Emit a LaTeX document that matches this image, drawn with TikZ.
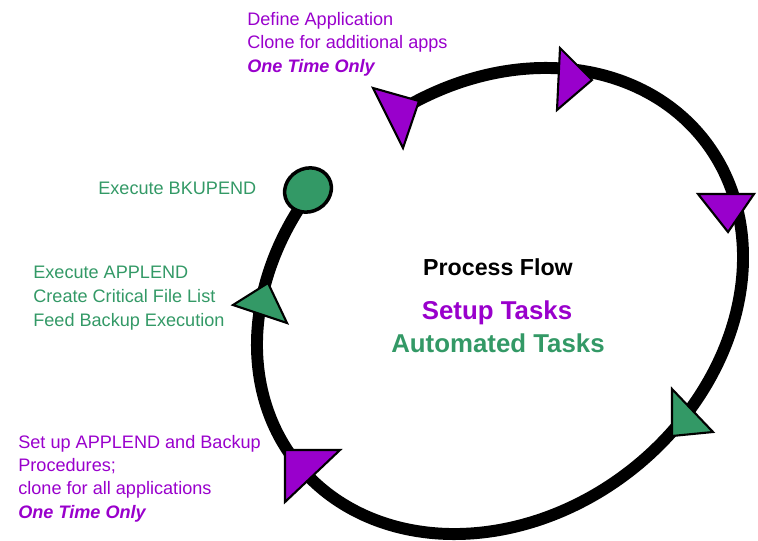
\documentclass[tikz,border=0pt]{standalone}
\usepackage{fontspec}
\setmainfont{Liberation Sans}
\usetikzlibrary{shapes.geometric, backgrounds}

\definecolor{setuppurple}{RGB}{153,0,204}
\definecolor{autogreen}{RGB}{51,153,102}

\tikzset{
	small text/.style={align=left, anchor=base west, inner sep=0pt, font=\fontsize{10.3}{13.1}\selectfont},
	setup text/.style={small text, text=setuppurple},
	auto text/.style={small text, text=autogreen},
	flowline/.style={line width=6.8pt},
	tri/.style={line width=1.2pt, draw=black},
}

\begin{document}
\begin{tikzpicture}[x=0.02cm, y=-0.02cm]

		\useasboundingbox (0,0) rectangle (758,541);

		% Textos
		
		\draw node[setup text] (define) at (247, 72) {Define Application\\Clone for additional apps\\\textbf{\textit{One Time Only}}};
		
		\draw node[auto text] (bkuptext) at (98, 194) {Execute BKUPEND};
		
		\draw node[auto text, font=\fontsize{10.3}{13.6}\selectfont] (appltext) at (33, 326) {Execute APPLEND\\Create Critical File List\\Feed Backup Execution};
		
		\draw node[setup text] (setupproc) at (18, 518) {Set up APPLEND and Backup\\Procedures;\\clone for all applications\\\textbf{\textit{One Time Only}}};
		
		\draw node[anchor=base, font=\bfseries\fontsize{13.2}{15}\selectfont] (flow) at (498, 275) {Process Flow};
		
		\draw node[anchor=base, text=setuppurple, font=\bfseries\fontsize{14.7}{17}\selectfont] (setup) at (497, 319) {Setup Tasks};
		
		\draw node[anchor=base, text=autogreen, font=\bfseries\fontsize{14.7}{17}\selectfont] (automated) at (498, 352) {Automated Tasks};
		
		% Ciclo (elipse inclinada)
		
		\draw node[draw, ellipse, line width=2pt, fill=autogreen, minimum width=0.96cm, minimum height=0.86cm, rotate=30] (bkupend) at (308, 190) {};
		
		\begin{pgfonlayer}{background}
			\draw[flowline] plot[domain=108:439, samples=120, smooth] ({500 + 260*cos(\x)*cos(38.7) - 214*sin(\x)*sin(38.7)}, {301 - 260*cos(\x)*sin(38.7) - 214*sin(\x)*cos(38.7)});
		\end{pgfonlayer}
		
		\filldraw[tri, fill=setuppurple] (373, 88) -- (419, 101) -- (403, 148) -- cycle;
		
		\filldraw[tri, fill=setuppurple] (560, 48) -- (592, 80) -- (557, 110) -- cycle;
		
		\filldraw[tri, fill=setuppurple] (698, 194) -- (754, 194) -- (728, 232) -- cycle;
		
		\filldraw[tri, fill=autogreen] (672, 389) -- (713, 432) -- (672, 436) -- cycle;
		
		\filldraw[tri, fill=setuppurple] (285, 450) -- (340, 450) -- (285, 502) -- cycle;
		
		\filldraw[tri, fill=autogreen] (233, 305) -- (268, 283) -- (287, 323) -- cycle;
		
	\end{tikzpicture}
\end{document}
